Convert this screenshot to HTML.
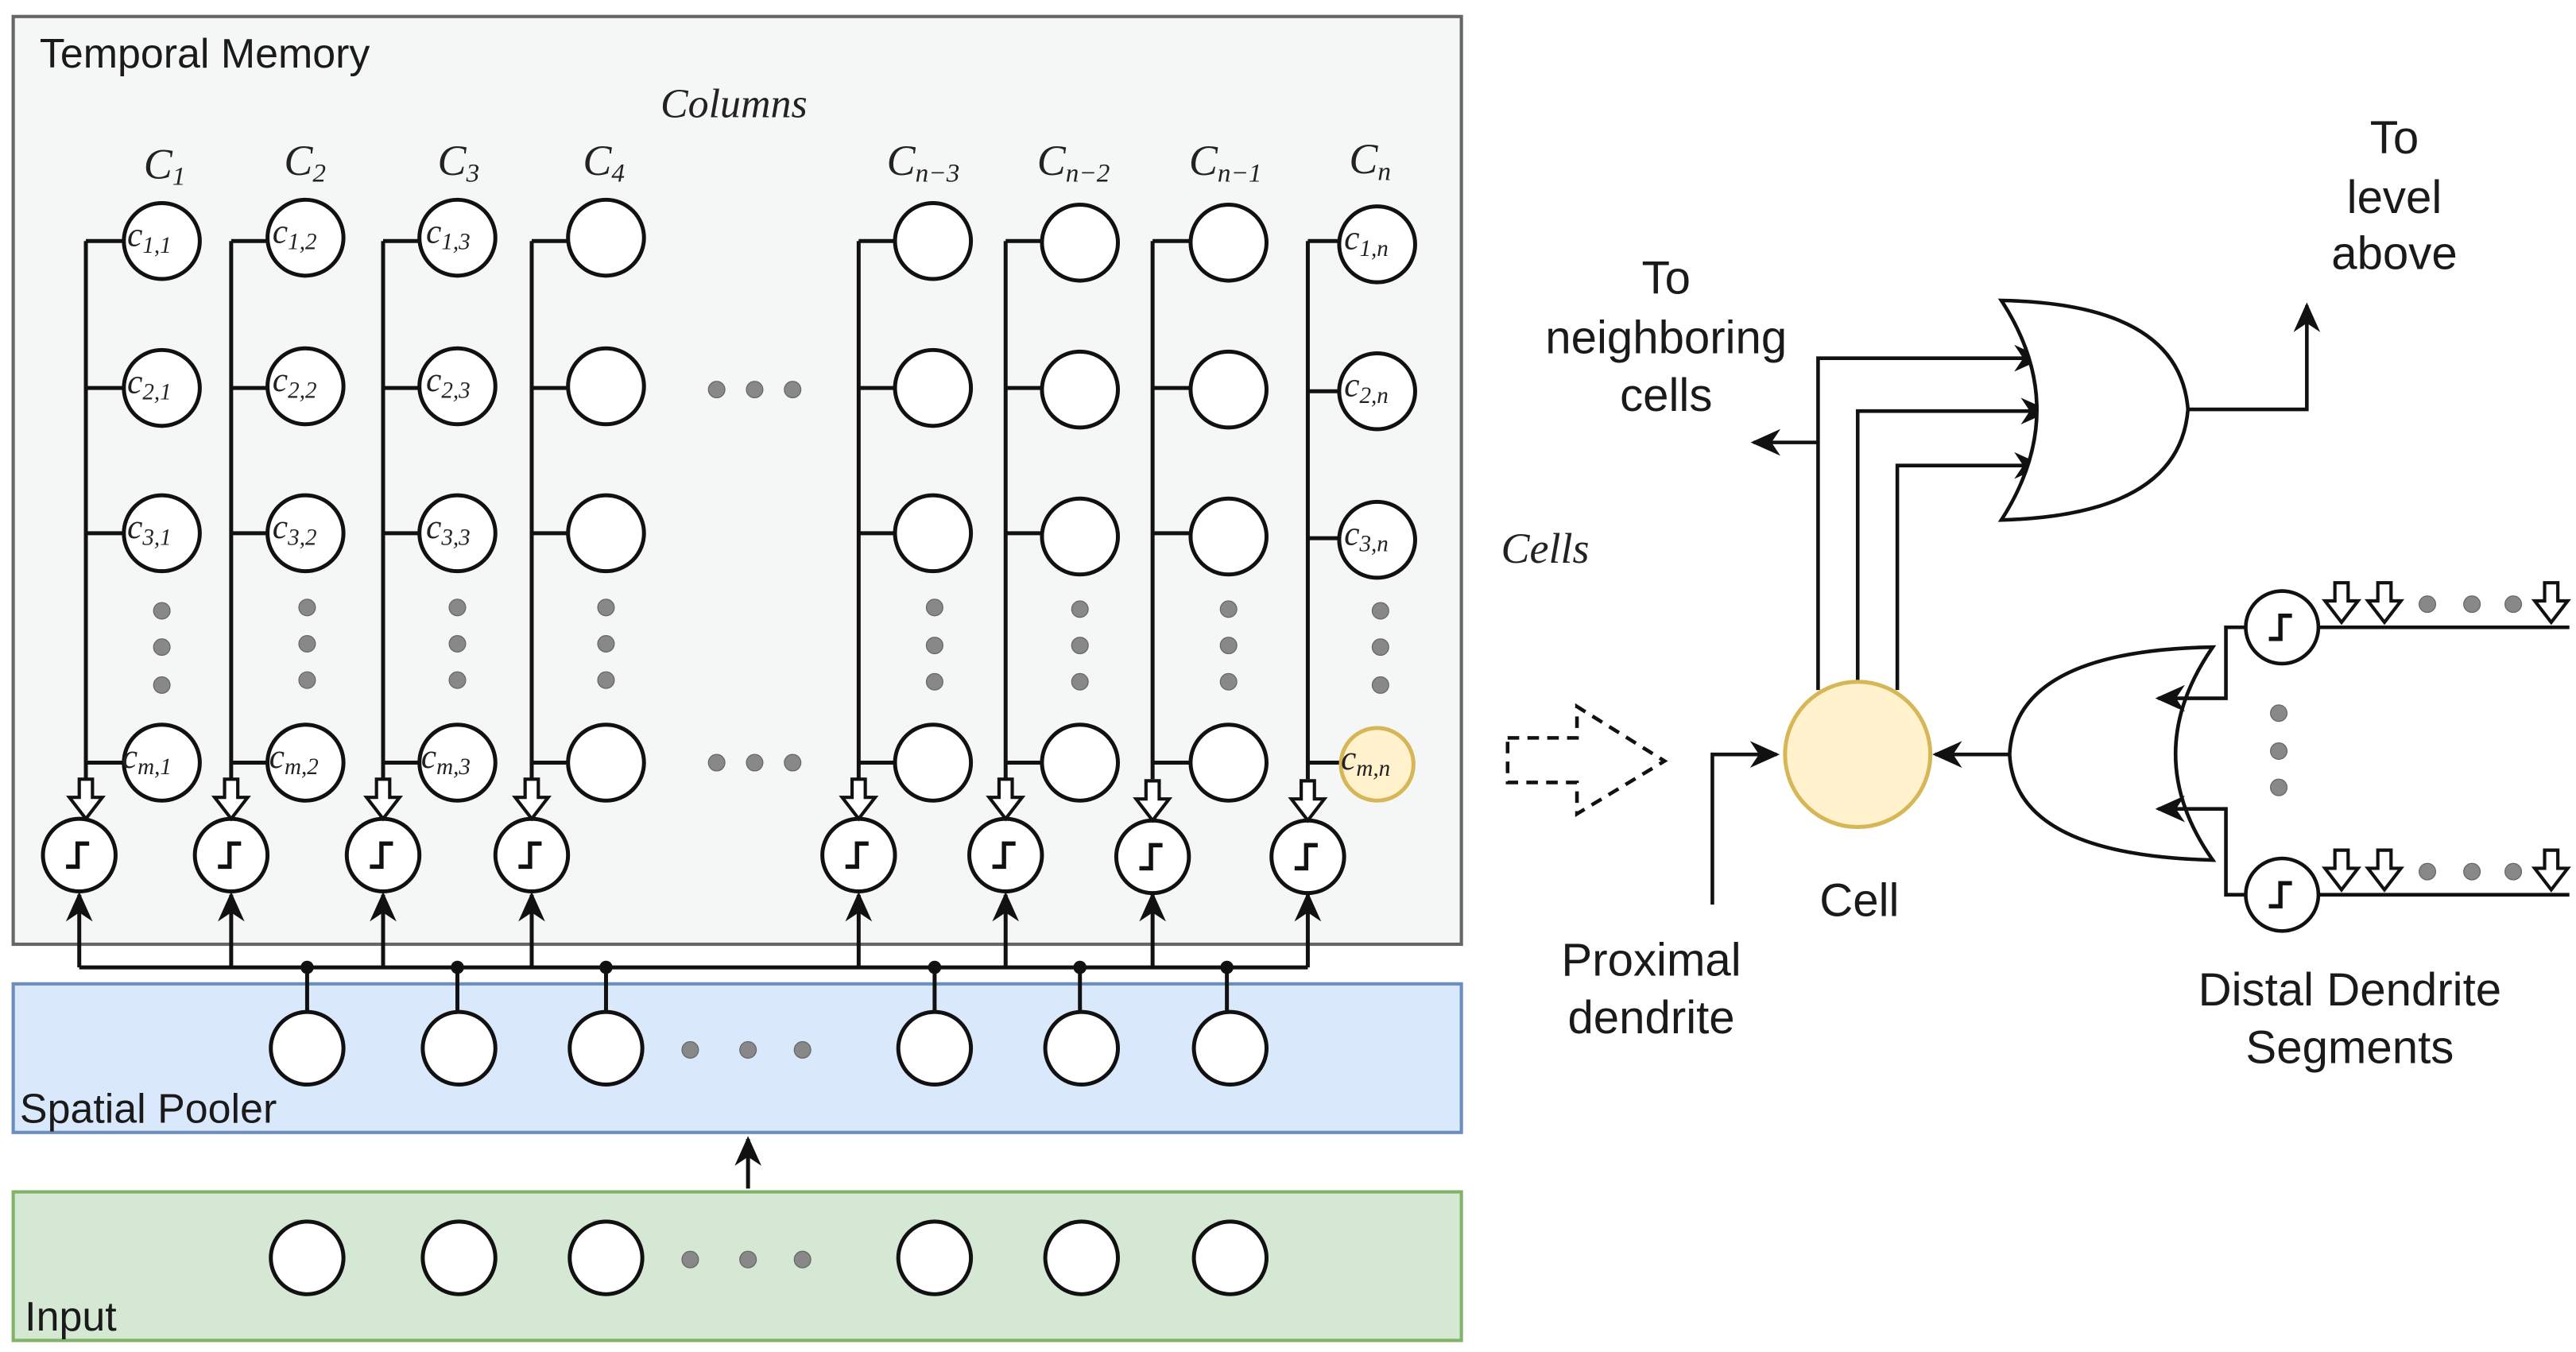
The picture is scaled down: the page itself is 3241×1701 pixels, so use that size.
<!DOCTYPE html>
<html><head><meta charset="utf-8"><style>
html,body{margin:0;padding:0;background:#fff;}
svg{display:block;}
.s{font-family:"Liberation Sans",sans-serif;fill:#1a1a1a;}
.m{font-family:"Liberation Serif",serif;font-style:italic;fill:#222;}
</style></head><body>
<svg width="3241" height="1701" viewBox="0 0 1560 819" preserveAspectRatio="none" xmlns="http://www.w3.org/2000/svg">
<defs>
<marker id="ar" viewBox="0 0 10 10" refX="9" refY="5" markerWidth="18" markerHeight="18" markerUnits="userSpaceOnUse" orient="auto"><path d="M0,0.5 L10,5 L0,9.5 L3,5 z" fill="#111"/></marker>
<g id="step"><path d="M-8,7 H-1 V-7 H6" fill="none" stroke="#111" stroke-width="2.6"/></g>
<g id="harr"><polygon points="-4,-14 4,-14 4,-3 10,-3 0,10 -10,-3 -4,-3" fill="#fff" stroke="#111" stroke-width="2"/></g>
</defs>

<rect x="8" y="10" width="877" height="562" fill="#f5f7f6" stroke="#666" stroke-width="2"/>
<text x="24" y="41" class="s" font-size="25">Temporal Memory</text>
<text x="400" y="71" class="m" font-size="25">Columns</text>
<rect x="8" y="596" width="877" height="90" fill="#dae8fc" stroke="#6c8ebf" stroke-width="2"/>
<text x="12" y="680" class="s" font-size="25">Spatial Pooler</text>
<rect x="8" y="722" width="877" height="90" fill="#d5e8d4" stroke="#82b366" stroke-width="2"/>
<text x="15" y="806" class="s" font-size="25">Input</text>

<g stroke="#111" stroke-width="2.4" fill="none">
<path d="M52,146V472 M140,146V472 M232,146V472 M322,146V472 M520,146V472 M609,146V472 M698,146V472 M792,146V472"/>
<path d="M52,146H75 M52,235H75 M52,323H75 M52,462H75
M140,146H162 M140,235H162 M140,323H162 M140,462H162
M232,146H254 M232,235H254 M232,323H254 M232,462H254
M322,146H344 M322,235H344 M322,323H344 M322,462H344
M520,146H542 M520,235H542 M520,323H542 M520,462H542
M609,146H631 M609,235H631 M609,323H631 M609,462H631
M698,146H721 M698,235H721 M698,323H721 M698,462H721
M792,146H812 M792,237H812 M792,326H812 M792,462H812"/>
<path d="M48,586H792"/>
<path d="M48,586V542" marker-end="url(#ar)"/>
<path d="M140,586V542" marker-end="url(#ar)"/>
<path d="M232,586V542" marker-end="url(#ar)"/>
<path d="M322,586V542" marker-end="url(#ar)"/>
<path d="M520,586V542" marker-end="url(#ar)"/>
<path d="M609,586V542" marker-end="url(#ar)"/>
<path d="M698,586V542" marker-end="url(#ar)"/>
<path d="M792,586V542" marker-end="url(#ar)"/>
<path d="M186,586V613 M277,586V613 M367,586V613 M566,586V613 M654,586V613 M743,586V613"/>
<path d="M453,720V690" marker-end="url(#ar)"/>
</g>
<g fill="#111"><circle cx="186" cy="586" r="4"/><circle cx="277" cy="586" r="4"/><circle cx="367" cy="586" r="4"/><circle cx="566" cy="586" r="4"/><circle cx="654" cy="586" r="4"/><circle cx="743" cy="586" r="4"/></g>

<g fill="#fff" stroke="#111" stroke-width="2.4">
<circle cx="98" cy="146" r="23"/><circle cx="98" cy="235" r="23"/><circle cx="98" cy="323" r="23"/><circle cx="98" cy="462" r="23"/>
<circle cx="185" cy="144" r="23"/><circle cx="185" cy="234" r="23"/><circle cx="185" cy="323" r="23"/><circle cx="185" cy="462" r="23"/>
<circle cx="277" cy="144" r="23"/><circle cx="277" cy="234" r="23"/><circle cx="277" cy="323" r="23"/><circle cx="277" cy="462" r="23"/>
<circle cx="367" cy="144" r="23"/><circle cx="367" cy="234" r="23"/><circle cx="367" cy="323" r="23"/><circle cx="367" cy="462" r="23"/>
<circle cx="565" cy="146" r="23"/><circle cx="565" cy="235" r="23"/><circle cx="565" cy="323" r="23"/><circle cx="565" cy="462" r="23"/>
<circle cx="654" cy="147" r="23"/><circle cx="654" cy="236" r="23"/><circle cx="654" cy="325" r="23"/><circle cx="654" cy="462" r="23"/>
<circle cx="744" cy="147" r="23"/><circle cx="744" cy="236" r="23"/><circle cx="744" cy="325" r="23"/><circle cx="744" cy="462" r="23"/>
<circle cx="834" cy="148" r="23"/><circle cx="834" cy="237" r="23"/><circle cx="834" cy="327" r="23"/>
<circle cx="48" cy="518" r="22"/><circle cx="140" cy="518" r="22"/><circle cx="232" cy="518" r="22"/><circle cx="322" cy="518" r="22"/>
<circle cx="520" cy="518" r="22"/><circle cx="609" cy="518" r="22"/><circle cx="698" cy="519" r="22"/><circle cx="792" cy="519" r="22"/>
<circle cx="186" cy="635" r="22"/><circle cx="278" cy="635" r="22"/><circle cx="367" cy="635" r="22"/><circle cx="566" cy="635" r="22"/><circle cx="655" cy="635" r="22"/><circle cx="745" cy="635" r="22"/>
<circle cx="186" cy="762" r="22"/><circle cx="278" cy="762" r="22"/><circle cx="367" cy="762" r="22"/><circle cx="566" cy="762" r="22"/><circle cx="655" cy="762" r="22"/><circle cx="745" cy="762" r="22"/>
</g>
<circle cx="834" cy="463" r="22" fill="#fff2cc" stroke="#d6b656" stroke-width="2.4"/>

<use href="#step" x="48" y="518"/><use href="#step" x="140" y="518"/><use href="#step" x="232" y="518"/><use href="#step" x="322" y="518"/>
<use href="#step" x="520" y="518"/><use href="#step" x="609" y="518"/><use href="#step" x="698" y="519"/><use href="#step" x="792" y="519"/>
<use href="#harr" x="52" y="486"/><use href="#harr" x="140" y="486"/><use href="#harr" x="232" y="486"/><use href="#harr" x="322" y="486"/>
<use href="#harr" x="520" y="486"/><use href="#harr" x="609" y="486"/><use href="#harr" x="698" y="487"/><use href="#harr" x="792" y="487"/>

<g fill="#888" stroke="#666" stroke-width="0.6">
<circle cx="98" cy="370" r="5"/><circle cx="98" cy="392" r="5"/><circle cx="98" cy="415" r="5"/>
<circle cx="186" cy="368" r="5"/><circle cx="186" cy="390" r="5"/><circle cx="186" cy="412" r="5"/>
<circle cx="277" cy="368" r="5"/><circle cx="277" cy="390" r="5"/><circle cx="277" cy="412" r="5"/>
<circle cx="367" cy="368" r="5"/><circle cx="367" cy="390" r="5"/><circle cx="367" cy="412" r="5"/>
<circle cx="566" cy="368" r="5"/><circle cx="566" cy="391" r="5"/><circle cx="566" cy="413" r="5"/>
<circle cx="654" cy="369" r="5"/><circle cx="654" cy="391" r="5"/><circle cx="654" cy="413" r="5"/>
<circle cx="744" cy="369" r="5"/><circle cx="744" cy="391" r="5"/><circle cx="744" cy="413" r="5"/>
<circle cx="836" cy="370" r="5"/><circle cx="836" cy="392" r="5"/><circle cx="836" cy="415" r="5"/>
<circle cx="434" cy="236" r="5"/><circle cx="457" cy="236" r="5"/><circle cx="480" cy="236" r="5"/>
<circle cx="434" cy="462" r="5"/><circle cx="457" cy="462" r="5"/><circle cx="480" cy="462" r="5"/>
<circle cx="418" cy="636" r="5"/><circle cx="453" cy="636" r="5"/><circle cx="486" cy="636" r="5"/>
<circle cx="418" cy="763" r="5"/><circle cx="453" cy="763" r="5"/><circle cx="486" cy="763" r="5"/>
<circle cx="1380" cy="432" r="5"/><circle cx="1380" cy="455" r="5"/><circle cx="1380" cy="477" r="5"/>
<circle cx="1470" cy="366" r="5"/><circle cx="1497" cy="366" r="5"/><circle cx="1522" cy="366" r="5"/>
<circle cx="1470" cy="528" r="5"/><circle cx="1497" cy="528" r="5"/><circle cx="1522" cy="528" r="5"/>
</g>

<g class="m" font-size="26">
<text x="87" y="108">C<tspan font-size="16" dy="4">1</tspan></text>
<text x="172" y="106">C<tspan font-size="16" dy="4">2</tspan></text>
<text x="265" y="106">C<tspan font-size="16" dy="4">3</tspan></text>
<text x="353" y="106">C<tspan font-size="16" dy="4">4</tspan></text>
<text x="537" y="106">C<tspan font-size="16" dy="4">n−3</tspan></text>
<text x="628" y="106">C<tspan font-size="16" dy="4">n−2</tspan></text>
<text x="720" y="106">C<tspan font-size="16" dy="4">n−1</tspan></text>
<text x="817" y="105">C<tspan font-size="16" dy="4">n</tspan></text>
</g>
<g class="m" font-size="21">
<text x="77" y="149">c<tspan font-size="14" dy="4">1,1</tspan></text>
<text x="77" y="238">c<tspan font-size="14" dy="4">2,1</tspan></text>
<text x="77" y="326">c<tspan font-size="14" dy="4">3,1</tspan></text>
<text x="74" y="465">c<tspan font-size="14" dy="4">m,1</tspan></text>
<text x="165" y="147">c<tspan font-size="14" dy="4">1,2</tspan></text>
<text x="165" y="237">c<tspan font-size="14" dy="4">2,2</tspan></text>
<text x="165" y="326">c<tspan font-size="14" dy="4">3,2</tspan></text>
<text x="163" y="465">c<tspan font-size="14" dy="4">m,2</tspan></text>
<text x="258" y="147">c<tspan font-size="14" dy="4">1,3</tspan></text>
<text x="258" y="237">c<tspan font-size="14" dy="4">2,3</tspan></text>
<text x="258" y="326">c<tspan font-size="14" dy="4">3,3</tspan></text>
<text x="255" y="465">c<tspan font-size="14" dy="4">m,3</tspan></text>
<text x="814" y="151">c<tspan font-size="14" dy="4">1,n</tspan></text>
<text x="814" y="240">c<tspan font-size="14" dy="4">2,n</tspan></text>
<text x="814" y="330">c<tspan font-size="14" dy="4">3,n</tspan></text>
<text x="812" y="466">c<tspan font-size="14" dy="4">m,n</tspan></text>
</g>

<text x="909" y="341" class="m" font-size="26">Cells</text>
<polygon points="913,447 955,447 955,428 1008,461 955,493 955,474 913,474" fill="none" stroke="#111" stroke-width="2.2" stroke-dasharray="7,5"/>

<g stroke="#111" stroke-width="2.2" fill="none">
<path d="M1037,548V457H1076" marker-end="url(#ar)"/>
<path d="M1101,418V217H1236" marker-end="url(#ar)"/>
<path d="M1125,413V249H1240" marker-end="url(#ar)"/>
<path d="M1149,418V282H1236" marker-end="url(#ar)"/>
<path d="M1101,268H1062" marker-end="url(#ar)"/>
<path d="M1212,182 Q1255,248 1212,315 Q1320,312 1325,248 Q1320,184 1212,182 Z" fill="#fff"/>
<path d="M1325,248H1397V185" marker-end="url(#ar)"/>
<path d="M1340,392 Q1295,457 1340,521 Q1220,518 1217,457 Q1220,394 1340,392 Z" fill="#fff"/>
<path d="M1217,457H1172" marker-end="url(#ar)"/>
<path d="M1360,380H1348V423H1307" marker-end="url(#ar)"/>
<path d="M1360,542H1348V490H1307" marker-end="url(#ar)"/>
<path d="M1404,380H1556 M1404,542H1556"/>
</g>
<circle cx="1125" cy="457" r="44" fill="#fff2cc" stroke="#d6b656" stroke-width="2.4"/>
<g fill="#fff" stroke="#111" stroke-width="2.2">
<circle cx="1382" cy="380" r="22"/><circle cx="1382" cy="542" r="22"/>
</g>
<use href="#step" x="1382" y="380"/><use href="#step" x="1382" y="542"/>
<use href="#harr" x="1418" y="367"/><use href="#harr" x="1444" y="367"/><use href="#harr" x="1545" y="367"/>
<use href="#harr" x="1418" y="529"/><use href="#harr" x="1444" y="529"/><use href="#harr" x="1545" y="529"/>

<g class="s" font-size="28" text-anchor="middle">
<text x="1009" y="178">To</text><text x="1009" y="214">neighboring</text><text x="1009" y="249">cells</text>
<text x="1450" y="93">To</text><text x="1450" y="129">level</text><text x="1450" y="163">above</text>
<text x="1126" y="555">Cell</text>
<text x="1000" y="591">Proximal</text><text x="1000" y="626">dendrite</text>
<text x="1423" y="609">Distal Dendrite</text><text x="1423" y="644">Segments</text>
</g>
</svg>
</body></html>
